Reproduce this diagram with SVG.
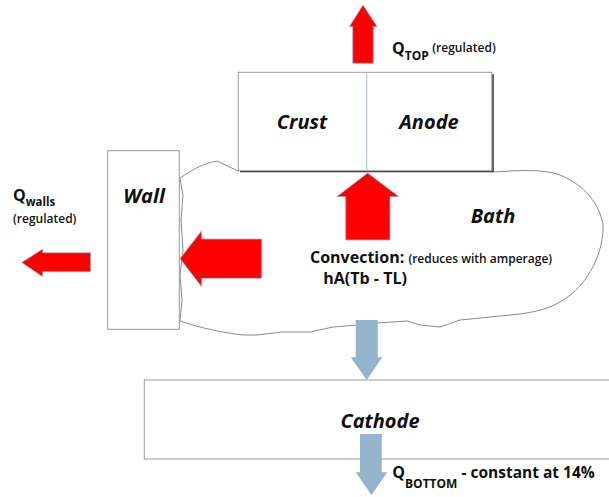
<svg xmlns="http://www.w3.org/2000/svg" width="609" height="497" viewBox="0 0 609 497">
<style>
.box{fill:#fff;stroke:#9a9a9a;stroke-width:1}
.blob{fill:#fff;stroke:#8a8a8a;stroke-width:1}
.lbl{font-family:"Open Sans","Liberation Sans",sans-serif;font-weight:700;font-style:italic;font-size:20px;fill:#111;text-anchor:middle}
.t{font-family:"Open Sans","Liberation Sans",sans-serif;font-weight:700;fill:#111}
.s{font-family:"Open Sans","Liberation Sans",sans-serif;font-weight:600;fill:#111;font-size:12px}
.red{fill:#ff0000;stroke:#9fb8d6;stroke-width:0.8}
.blue{fill:#93b4ca;stroke:none}
</style>
<rect width="609" height="497" fill="#fff"/>
<g id="bath">
<path class="blob" d="M 492,172 C 515,171 540,168 560,175 C 585,185 600,205 603,225 C 604,250 590,285 560,302 C 545,311 525,314 500,316 L 460,320 L 440,327 L 420,325 L 407,321 L 377,323 L 357,325 L 333,327 L 310,332 L 282,332 L 257,335 L 243,335 C 225,333 200,328 180,321 L 182,300 L 180,275 L 183,250 L 181,220 L 183,195 L 180,178 C 195,168 205,163 217,161 L 238,171"/>
<text class="lbl" x="493" y="223">Bath</text>
</g>
<g id="crust-anode">
<line x1="493" y1="74" x2="493" y2="172" stroke="#333" stroke-width="1.5"/>
<line x1="240" y1="171.5" x2="493" y2="171.5" stroke="#333" stroke-width="1.5"/>
<rect class="box" x="238.3" y="72.3" width="253.4" height="98.4"/>
<line x1="366.7" y1="72.3" x2="366.7" y2="170.7" stroke="#a8bfd2" stroke-width="1"/>
<text class="lbl" x="302" y="129">Crust</text>
<text class="lbl" x="429" y="129">Anode</text>
</g>
<g id="wall">
<rect class="box" x="107.7" y="150.7" width="71.6" height="178.6"/>
<text class="lbl" x="144" y="203">Wall</text>
</g>
<g id="cathode">
<rect class="box" x="144.3" y="380" width="480" height="79"/>
<text class="lbl" x="380" y="427.5">Cathode</text>
</g>
<g id="connectors">
<polygon class="red" points="352.7,63.3 352.7,26.7 349.3,26.7 363,5 377.3,26.7 373.3,26.7 373.3,63.3"/>
<polygon class="red" points="345.7,240 345.7,196.7 336.7,196.7 367.7,173 399,196.7 390,196.7 390,240"/>
<polygon class="red" points="261.7,239 201.7,239 201.7,230.7 180,258.6 201.7,286.7 201.7,278.3 261.7,278.3"/>
<polygon class="red" points="90.7,252.7 42.7,252.7 42.7,249 21.7,262.5 42.7,276.7 42.7,271.7 90.7,271.7"/>
<polygon class="blue" points="355.7,320 377.7,320 377.7,357.3 382.3,357.3 366.7,380 350.7,357.3 355.7,357.3"/>
<polygon class="blue" points="360,434 381.7,434 381.7,472.3 387.3,472.3 371.5,495 355.7,472.3 360,472.3"/>
</g>
<g id="labels">
<text class="t" x="392" y="54" font-size="16">Q<tspan font-size="12" dy="6">TOP</tspan></text>
<text class="s" x="432.3" y="51.5">(regulated)</text>
<text class="t" x="13" y="201" font-size="16">Q<tspan font-size="11.5" dy="5">walls</tspan></text>
<text class="s" x="13" y="222.5">(regulated)</text>
<text class="t" x="310" y="262.5" font-size="16">Convection: <tspan class="s">(reduces with amperage)</tspan></text>
<text class="t" x="323.3" y="284.3" font-size="16">hA(Tb - TL)</text>
<text class="t" x="392.3" y="478.3" font-size="16">Q<tspan font-size="12" dy="10">BOTTOM</tspan><tspan font-size="15.5" dy="-10"> - constant at 14%</tspan></text>
</g>
</svg>
